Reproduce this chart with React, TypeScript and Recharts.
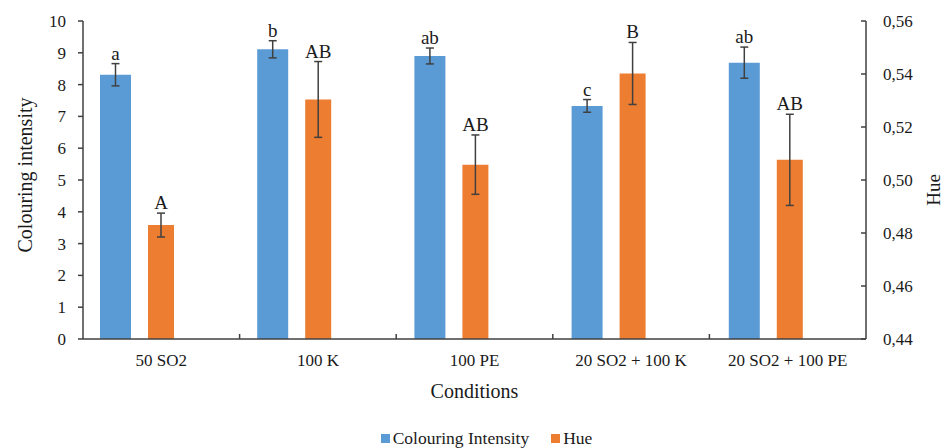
import React from "react";
import { ComposedChart, Bar, XAxis, YAxis, ErrorBar, LabelList, Legend } from "recharts";

document.body.style.margin = "0";

const conditions = ["50 SO2", "100 K", "100 PE", "20 SO2 + 100 K", "20 SO2 + 100 PE"];
const colouringIntensity = [8.31, 9.11, 8.9, 7.33, 8.69];
const colouringErr = [0.35, 0.27, 0.25, 0.2, 0.49];
const colouringLetters = ["a", "b", "ab", "c", "ab"];
const hue = [0.483, 0.5304, 0.5058, 0.5402, 0.5076];
const hueErr = [0.0045, 0.0143, 0.0112, 0.0117, 0.0172];
const hueLetters = ["A", "AB", "AB", "B", "AB"];
const intensityTicks = [0, 1, 2, 3, 4, 5, 6, 7, 8, 9, 10];
const hueTicks = [0.44, 0.46, 0.48, 0.5, 0.52, 0.54, 0.56];

const data = conditions.map((c, i) => ({
  condition: c,
  intensity: colouringIntensity[i],
  intensityErr: colouringErr[i],
  hue: hue[i],
  hueErr: hueErr[i],
}));

const FONT = "'Liberation Serif', 'Times New Roman', serif";
const AXIS = "#404040";
const TEXT = "#1a1a1a";

// letter above the error bar; bar height / value gives px per unit
const letterLabel = (letters, values, errs, base) => (props) => {
  const { x, y, width, height, index } = props;
  const perUnit = height / (values[index] - base);
  const top = y - errs[index] * perUnit;
  return (
    <text x={x + width / 2} y={top - 4} textAnchor="middle" fontFamily={FONT} fontSize={19} fill={TEXT}>
      {letters[index]}
    </text>
  );
};

const CategoryTick = (props) => {
  const { x, y, payload, index, visibleTicksCount, width } = props;
  const band = width / visibleTicksCount;
  return (
    <g>
      <text x={x} y={y + 27} textAnchor="middle" fontFamily={FONT} fontSize={17} fill={TEXT}>
        {payload.value}
      </text>
      {index < visibleTicksCount - 1 && (
        <line x1={x + band / 2} x2={x + band / 2} y1={y} y2={y - 5} stroke={AXIS} strokeWidth={1.5} />
      )}
    </g>
  );
};

const LeftTitle = ({ viewBox }) => {
  const cx = viewBox.x + 25;
  const cy = viewBox.y + viewBox.height / 2 - 5;
  return (
    <text x={cx} y={cy} transform={`rotate(-90 ${cx} ${cy})`} textAnchor="middle" dominantBaseline="central"
      fontFamily={FONT} fontSize={20} fill={TEXT}>
      Colouring intensity
    </text>
  );
};

const RightTitle = ({ viewBox }) => {
  const cx = viewBox.x + 67;
  const cy = viewBox.y + viewBox.height / 2 + 10;
  return (
    <text x={cx} y={cy} transform={`rotate(-90 ${cx} ${cy})`} textAnchor="middle" dominantBaseline="central"
      fontFamily={FONT} fontSize={19} fill={TEXT}>
      Hue
    </text>
  );
};

const BottomTitle = ({ viewBox }) => (
  <text x={viewBox.x + viewBox.width / 2} y={viewBox.y + 59} textAnchor="middle" fontFamily={FONT} fontSize={20} fill={TEXT}>
    Conditions
  </text>
);

const LegendContent = ({ payload }) => (
  <div style={{ height: 30, boxSizing: "border-box", paddingTop: 10, paddingLeft: 25, lineHeight: "20px",
    display: "flex", justifyContent: "center", gap: 22, fontFamily: FONT, fontSize: 17.5, color: TEXT }}>
    {(payload || []).map((p) => (
      <span key={p.value} style={{ display: "flex", alignItems: "center" }}>
        <span style={{ width: 9, height: 9, background: p.color, marginRight: 3, display: "inline-block" }} />
        {p.value}
      </span>
    ))}
  </div>
);

export default function App() {
  return (
    <ComposedChart width={948} height={448} data={data} margin={{ top: 21, right: 0, bottom: 0, left: 0 }} barGap={17}>
      <XAxis xAxisId="lbl" dataKey="condition" height={79} tickLine={false} tickSize={0} tickMargin={0}
        axisLine={{ stroke: AXIS, strokeWidth: 1.5 }} tick={<CategoryTick />} interval={0}
        label={<BottomTitle />} />
      <XAxis dataKey="condition" hide height={0} padding={{ left: -25, right: 22 }} />
      <YAxis yAxisId="left" width={83} domain={[0, 10]} ticks={intensityTicks} interval={0}
        tickSize={5} tickMargin={12} axisLine={{ stroke: AXIS, strokeWidth: 1.5 }} tickLine={{ stroke: AXIS, strokeWidth: 1.5 }}
        tick={{ fontFamily: FONT, fontSize: 17, fill: TEXT }} label={<LeftTitle />} />
      <YAxis yAxisId="right" orientation="right" width={82} domain={[0.44, 0.56]} ticks={hueTicks} interval={0}
        tickSize={-5} tickMargin={22} axisLine={{ stroke: AXIS, strokeWidth: 1.5 }} tickLine={{ stroke: AXIS, strokeWidth: 1.5 }}
        tick={{ fontFamily: FONT, fontSize: 17, fill: TEXT }}
        tickFormatter={(v) => v.toFixed(2).replace(".", ",")} label={<RightTitle />} />
      <Legend verticalAlign="bottom" content={<LegendContent />} />
      <Bar yAxisId="left" dataKey="intensity" name="Colouring Intensity" fill="#5B9BD5" barSize={31} isAnimationActive={false}>
        <ErrorBar dataKey="intensityErr" width={4} stroke={AXIS} strokeWidth={1.5} direction="y" />
        <LabelList dataKey="intensity" content={letterLabel(colouringLetters, colouringIntensity, colouringErr, 0)} />
      </Bar>
      <Bar yAxisId="right" dataKey="hue" name="Hue" fill="#ED7D31" barSize={26} isAnimationActive={false}>
        <ErrorBar dataKey="hueErr" width={4} stroke={AXIS} strokeWidth={1.5} direction="y" />
        <LabelList dataKey="hue" content={letterLabel(hueLetters, hue, hueErr, 0.44)} />
      </Bar>
    </ComposedChart>
  );
}
